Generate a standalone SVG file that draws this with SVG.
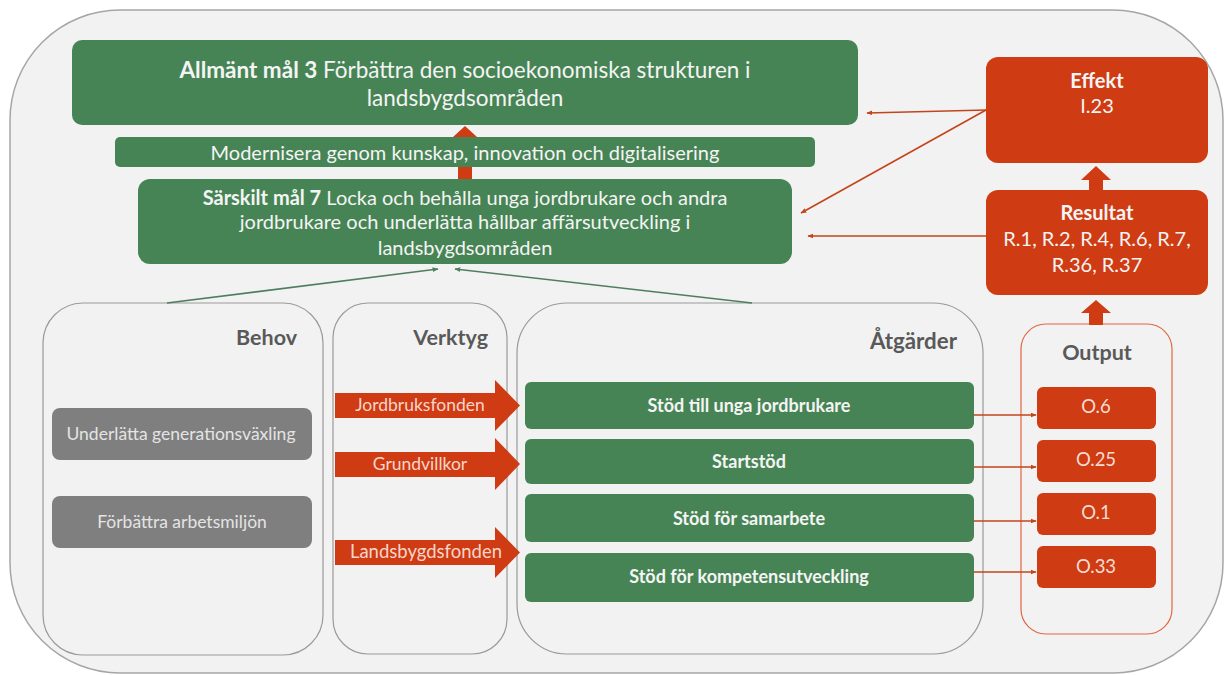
<svg xmlns="http://www.w3.org/2000/svg" width="1224" height="675" viewBox="0 0 1224 675">
<defs>
<style>
text{font-family:Lato,"Liberation Sans",sans-serif;}
.green{fill:#478455;}
.red{fill:#cf3b12;}
.gray{fill:#7f7f7f;}
.panel{fill:none;stroke:#9a9a9a;stroke-width:1.2;}
.wt{fill:#f4f4f4;font-size:20px;text-anchor:middle;}
.big{font-size:22.5px;}
.title{fill:#595959;font-size:21.5px;font-weight:bold;}
.act{fill:#f4f4f4;font-size:18px;font-weight:bold;text-anchor:middle;}
.otxt{fill:#f8ddd3;font-size:18.5px;text-anchor:middle;}
.ftxt{fill:#f7d6cb;font-size:17.5px;text-anchor:middle;}
.btxt{fill:#e4e4e4;font-size:17.5px;text-anchor:middle;}
.rline{stroke:#c4441c;stroke-width:1.6;fill:none;}
.gline{stroke:#4d7f5e;stroke-width:1.6;fill:none;}
</style>
<marker id="ar" viewBox="0 0 10 10" refX="9" refY="5" markerWidth="6" markerHeight="6" orient="auto-start-reverse" markerUnits="userSpaceOnUse"><path d="M0,1 L10,5 L0,9 z" fill="#c4441c"/></marker>
<marker id="ag" viewBox="0 0 10 10" refX="9" refY="5" markerWidth="6" markerHeight="6" orient="auto-start-reverse" markerUnits="userSpaceOnUse"><path d="M0,1 L10,5 L0,9 z" fill="#4d7f5e"/></marker>
</defs>
<rect x="0" y="0" width="1224" height="675" fill="#ffffff"/>
<rect id="frame" x="10" y="10" width="1213" height="663" rx="110" ry="110" fill="#f2f2f2" stroke="#a6a6a6" stroke-width="1.5"/>

<g id="panels">
<rect id="behov-panel" class="panel" x="43" y="303" width="280" height="352" rx="40"/>
<rect id="verktyg-panel" class="panel" x="333" y="303" width="174" height="351" rx="35"/>
<rect id="atgarder-panel" class="panel" x="517" y="303" width="466" height="351" rx="50"/>
<rect id="output-panel" x="1021" y="324" width="151" height="310" rx="25" fill="none" stroke="#e2673f" stroke-width="1.2"/>
<text class="title" x="297" y="345" text-anchor="end">Behov</text>
<text class="title" x="488" y="345" text-anchor="end">Verktyg</text>
<text class="title" x="957" y="349" text-anchor="end" style="font-size:22.3px">Åtgärder</text>
<text class="title" x="1097" y="360" text-anchor="middle">Output</text>
</g>

<g id="connectors">
<polygon class="red" points="458,180 458,137 453,137 465,126 477,137 472,137 472,180"/>
<polygon class="red" points="1089,191 1089,180 1081,180 1096,166 1111,180 1103,180 1103,191"/>
<polygon class="red" points="1089,325 1089,313 1081,313 1096,300 1111,313 1103,313 1103,325"/>
<line class="rline" x1="986" y1="110" x2="867" y2="113" marker-end="url(#ar)"/>
<line class="rline" x1="986" y1="110" x2="801" y2="213" marker-end="url(#ar)"/>
<line class="rline" x1="986" y1="236" x2="808" y2="236" marker-end="url(#ar)"/>
<line class="gline" x1="167" y1="303" x2="438" y2="269" marker-end="url(#ag)"/>
<line class="gline" x1="752" y1="303" x2="455" y2="269" marker-end="url(#ag)"/>
<line class="rline" x1="974" y1="415" x2="1036" y2="415" marker-end="url(#ar)"/>
<line class="rline" x1="974" y1="467" x2="1036" y2="467" marker-end="url(#ar)"/>
<line class="rline" x1="974" y1="521" x2="1036" y2="521" marker-end="url(#ar)"/>
<line class="rline" x1="974" y1="572" x2="1036" y2="572" marker-end="url(#ar)"/>
</g>

<g id="allmant">
<rect class="green" x="72" y="40" width="786" height="85" rx="10"/>
<text class="wt big" x="465" y="78"><tspan font-weight="bold">Allmänt mål 3</tspan> Förbättra den socioekonomiska strukturen i</text>
<text class="wt big" x="465" y="106">landsbygdsområden</text>
</g>

<g id="modernisera">
<rect class="green" x="115" y="137" width="700" height="30" rx="5"/>
<text class="wt" x="465" y="160">Modernisera genom kunskap, innovation och digitalisering</text>
</g>

<g id="sarskilt">
<rect class="green" x="138" y="179" width="654" height="85" rx="12"/>
<text class="wt" x="465" y="205"><tspan font-weight="bold">Särskilt mål 7</tspan> Locka och behålla unga jordbrukare och andra</text>
<text class="wt" x="465" y="229">jordbrukare och underlätta hållbar affärsutveckling i</text>
<text class="wt" x="465" y="255">landsbygdsområden</text>
</g>

<g id="effekt">
<rect class="red" x="986" y="57" width="222" height="106" rx="12"/>
<text class="wt" x="1097" y="88" font-weight="bold">Effekt</text>
<text class="wt" x="1097" y="113">I.23</text>
</g>

<g id="resultat">
<rect class="red" x="986" y="190" width="222" height="105" rx="12"/>
<text class="wt" x="1097" y="220" font-weight="bold">Resultat</text>
<text class="wt" x="1097" y="246">R.1, R.2, R.4, R.6, R.7,</text>
<text class="wt" x="1097" y="272">R.36, R.37</text>
</g>

<g id="behov1">
<rect class="gray" x="52" y="408" width="260" height="52" rx="8"/>
<text class="btxt" x="181" y="440">Underlätta generationsväxling</text>
</g>
<g id="behov2">
<rect class="gray" x="52" y="496" width="260" height="52" rx="8"/>
<text class="btxt" x="182" y="528">Förbättra arbetsmiljön</text>
</g>

<g id="jordbruksfonden">
<polygon class="red" points="335,393 495,393 495,380 520,405.5 495,431 495,418 335,418"/>
<text class="ftxt" x="420" y="411">Jordbruksfonden</text>
</g>
<g id="grundvillkor">
<polygon class="red" points="335,452 495,452 495,438 520,464 495,490 495,477 335,477"/>
<text class="ftxt" x="420" y="470">Grundvillkor</text>
</g>
<g id="landsbygdsfonden">
<polygon class="red" points="335,540 495,540 495,527 520,552.5 495,578 495,565 335,565"/>
<text class="ftxt" x="426" y="558" style="font-size:18.5px">Landsbygdsfonden</text>
</g>

<g id="atgard1">
<rect class="green" x="525" y="382" width="449" height="47" rx="6"/>
<text class="act" x="749" y="412">Stöd till unga jordbrukare</text>
</g>
<g id="atgard2">
<rect class="green" x="525" y="439" width="449" height="45" rx="6"/>
<text class="act" x="749" y="468">Startstöd</text>
</g>
<g id="atgard3">
<rect class="green" x="525" y="494" width="449" height="48" rx="6"/>
<text class="act" x="749" y="525">Stöd för samarbete</text>
</g>
<g id="atgard4">
<rect class="green" x="525" y="553" width="449" height="49" rx="6"/>
<text class="act" x="749" y="583">Stöd för kompetensutveckling</text>
</g>

<g id="o6">
<rect class="red" x="1037" y="387" width="119" height="42" rx="6"/>
<text class="otxt" x="1096" y="413">O.6</text>
</g>
<g id="o25">
<rect class="red" x="1037" y="440" width="119" height="42" rx="6"/>
<text class="otxt" x="1096" y="466">O.25</text>
</g>
<g id="o1">
<rect class="red" x="1037" y="493" width="119" height="42" rx="6"/>
<text class="otxt" x="1096" y="519">O.1</text>
</g>
<g id="o33">
<rect class="red" x="1037" y="546" width="119" height="42" rx="6"/>
<text class="otxt" x="1096" y="573">O.33</text>
</g>
</svg>
